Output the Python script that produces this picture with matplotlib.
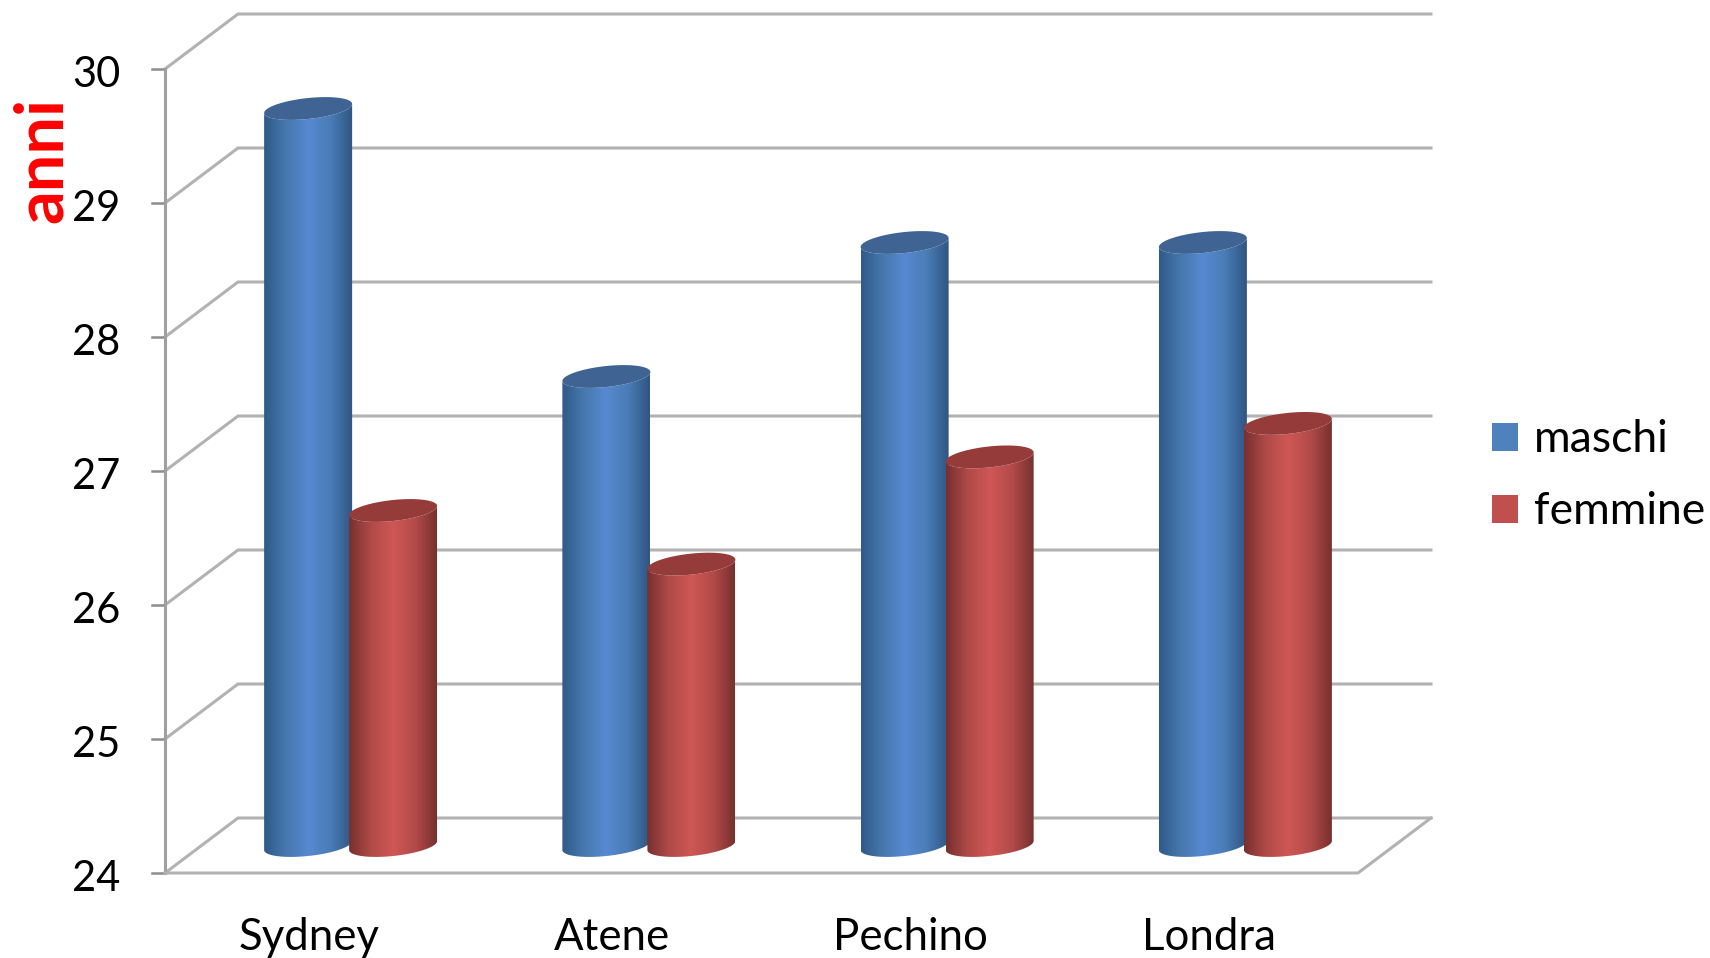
import numpy as np
import matplotlib
matplotlib.use("Agg")
import matplotlib.pyplot as plt
from matplotlib.colors import LinearSegmentedColormap
from matplotlib.patches import PathPatch, Polygon, Rectangle
from matplotlib.path import Path

cities = ["Sydney", "Atene", "Pechino", "Londra"]
maschi = [29.5, 27.5, 28.5, 28.5]
femmine = [26.5, 26.1, 26.9, 27.15]
yticks = [24, 25, 26, 27, 28, 29, 30]

BLUE = ["#2f5a88", "#4778ae", "#5689d0", "#4a7cb6", "#2f5582"]
RED = ["#76302f", "#b04a48", "#cf5755", "#b34b49", "#78302f"]
BLUE_TOP = "#3f6494"
RED_TOP = "#953b39"
GRID = "#b2b2b2"

W, H = 1710, 958
fig = plt.figure(figsize=(W / 100, H / 100), dpi=100)
ax = fig.add_axes([0, 0, 1, 1])

# x: category units, 0 at px 165 and 4 at px 1358; y: data, 24 at px 873, 30 at px 69
px_x = 298.25
px_y = 134.0
xlim = (-165 / px_x, (W - 165) / px_x)
ylim = (24 - (H - 873) / px_y, 24 + 873 / px_y)
ax.axis("off")

depth_x = 73 / px_x
depth_y = 55 / px_y

# back wall, left wall and floor
for v in yticks:
    ax.plot([0, depth_x, 4 + depth_x], [v, v + depth_y, v + depth_y],
            color=GRID, lw=2.2, solid_joinstyle="miter", zorder=1)
    ax.plot([-13 / px_x, 0], [v, v], color="#8c8c8c", lw=1.8, zorder=1)
ax.plot([0, 0], [24, 30], color="#a0a0a0", lw=2.2, zorder=1)
ax.plot([0, 4, 4 + depth_x], [24, 24, 24 + depth_y], color=GRID, lw=2.2, zorder=1)

bar_w = 88 / px_x
bar_step = 85 / px_x
semi_b = 10.5 / px_y
skew = 4.5 / px_y


def cylinder(x_left, value, colors, top_color, z):
    cx = x_left + bar_w / 2
    base = 24 + depth_y / 2
    top = value + depth_y / 2
    a = bar_w / 2
    t_low = np.linspace(np.pi, 2 * np.pi, 40)
    # side: down the left edge, round the bottom arc, up the right edge
    bx = cx + a * np.cos(t_low)
    by = base + semi_b * np.sin(t_low) + skew * np.cos(t_low)
    tx = cx + a * np.cos(t_low[::-1])
    ty = top + semi_b * np.sin(t_low[::-1]) + skew * np.cos(t_low[::-1])
    verts = np.column_stack([np.r_[bx, tx], np.r_[by, ty]])
    clip = PathPatch(Path(np.vstack([verts, verts[0]])), transform=ax.transData,
                     fc="none", ec="none")
    ax.add_patch(clip)
    cmap = LinearSegmentedColormap.from_list("c", colors)
    im = ax.imshow(np.linspace(0, 1, 256)[None, :], cmap=cmap, aspect="auto",
                   extent=(x_left, x_left + bar_w, base - 0.2, top + 0.2),
                   zorder=z, interpolation="bilinear")
    im.set_clip_path(clip)
    t = np.linspace(0, 2 * np.pi, 80)
    ell = np.column_stack([cx + a * np.cos(t),
                           top + semi_b * np.sin(t) + skew * np.cos(t)])
    ax.add_patch(Polygon(ell, closed=True, fc=top_color, ec="none", zorder=z + 0.1))


for i, city in enumerate(cities):
    center = i + 0.5 + depth_x / 2
    left = center - (bar_w + bar_step) / 2
    cylinder(left, maschi[i], BLUE, BLUE_TOP, 3)
    cylinder(left + bar_step, femmine[i], RED, RED_TOP, 4)

ax.set_xlim(xlim)
ax.set_ylim(ylim)

font = "Lato"
for v in yticks:
    ax.text(-45 / px_x, v - 6 / px_y, str(v), ha="right", va="center", fontsize=30,
            family=font, color="black")
label_nudge = [-5, 0, 0, 0]
for i, city in enumerate(cities):
    ax.text(i + 0.5 + label_nudge[i] / px_x, 24 - 65 / px_y, city, ha="center",
            va="center", fontsize=31.5, family=font, color="black")

ax.text(43 / W, 1 - 160 / H, "anni", transform=ax.transAxes, rotation=90,
        ha="center", va="center", fontsize=48, fontweight="bold",
        family=font, color="#ff0000")

# legend
for label, col, y0 in zip(["maschi", "femmine"], ["#4f81bd", "#c0504d"], [423, 495]):
    ax.add_patch(Rectangle((1492 / W, 1 - (y0 + 28) / H), 26 / W, 28 / H,
                           transform=ax.transAxes, fc=col, ec="none", zorder=5))
    ax.text(1534 / W, 1 - (y0 + 17) / H, label, transform=ax.transAxes, ha="left",
            va="center", fontsize=32, family=font, color="black")

fig.savefig("out.png", dpi=100)
